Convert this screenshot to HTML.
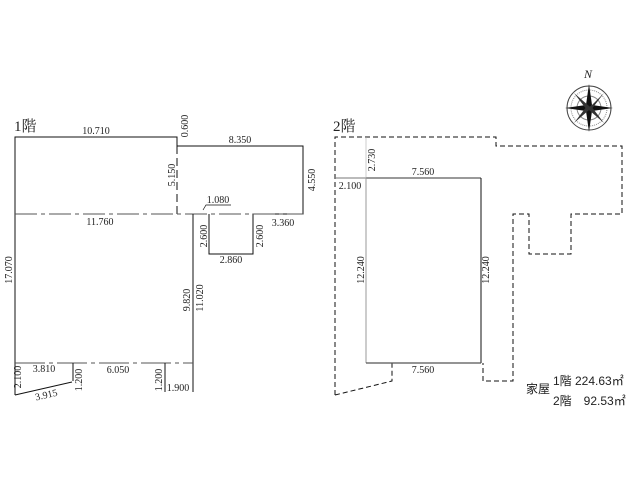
<!DOCTYPE html>
<html><head><meta charset="utf-8"><style>
body{margin:0;background:#fff}
svg{display:block}
.t{font-family:"Liberation Serif","Noto Serif CJK SC",serif;font-size:10px;fill:#222}
.s{font-family:"Liberation Sans","Noto Sans CJK JP",sans-serif;font-size:12px;fill:#222}
</style></head><body>
<svg width="640" height="480" viewBox="0 0 640 480" xmlns="http://www.w3.org/2000/svg">
<g stroke="#111" stroke-width="1" fill="none">
<polyline points="15,395 15,137 177,137 177,146 303,146 303,214 253,214 253,254 209,254 209,214"/>
<line x1="177" y1="146" x2="177" y2="214" stroke-dasharray="8,4"/>
<line x1="15" y1="214" x2="303" y2="214" stroke="#555" stroke-dasharray="22,4,4,4"/>
<line x1="193" y1="214" x2="193" y2="392"/>
<line x1="15" y1="363" x2="193" y2="363" stroke="#555" stroke-dasharray="30,4,4,4"/>
<line x1="73" y1="363" x2="73" y2="381"/>
<line x1="165" y1="363" x2="165" y2="392"/>
<line x1="15" y1="395" x2="72" y2="382"/>
<polyline points="203,210 206,205 231,205" stroke-width="0.7"/>
<polyline points="335,395 335,137 496,137 496,146 622,146 622,214 571,214 571,254 529,254 529,214 513,214 513,381 483,381 483,363" stroke-dasharray="5,3"/>
<polyline points="335,395 392,381 392,363" stroke-dasharray="5,3"/>
<line x1="335" y1="178" x2="366" y2="178" stroke="#777"/>
<line x1="366" y1="178" x2="481" y2="178" stroke="#333"/>
<line x1="366" y1="178" x2="366" y2="363" stroke="#999"/>
<line x1="481" y1="178" x2="481" y2="363"/>
<line x1="366" y1="363" x2="481" y2="363" stroke="#555" stroke-width="1.3"/>
<line x1="366" y1="137" x2="366" y2="178" stroke="#aaa" stroke-width="0.6"/>
<circle cx="589" cy="108" r="22" stroke="#444"/>
<circle cx="589" cy="108" r="18" stroke="#888" stroke-dasharray="1,1"/>
<circle cx="589" cy="108" r="12" stroke="#888"/>
</g>
<g fill="#111">
<polygon points="589,84 592,105 589,108 586,105"/>
<polygon points="589,132 592,111 589,108 586,111"/>
<polygon points="565,108 586,105 589,108 586,111"/>
<polygon points="613,108 592,105 589,108 592,111"/>
<polygon points="574,93 589,106 591,108 587,110" fill="#333"/>
<polygon points="604,93 591,106 589,108 591,110" fill="#333"/>
<polygon points="574,123 589,110 591,108 587,106" fill="#333"/>
<polygon points="604,123 589,110 587,108 591,106" fill="#333"/>
</g>
<text x="588" y="78" class="t" style="font-size:12px;font-style:italic" text-anchor="middle">N</text>
<text x="14" y="131" class="t" style="font-size:15px">1階</text>
<text x="96" y="134" class="t" text-anchor="middle">10.710</text>
<text class="t" text-anchor="middle" transform="translate(188,126) rotate(-90)">0.600</text>
<text x="240" y="143" class="t" text-anchor="middle">8.350</text>
<text class="t" text-anchor="middle" transform="translate(175,175) rotate(-90)">5.150</text>
<text class="t" text-anchor="middle" transform="translate(315,180) rotate(-90)">4.550</text>
<text x="218" y="203" class="t" text-anchor="middle">1.080</text>
<text x="100" y="225" class="t" text-anchor="middle">11.760</text>
<text x="283" y="226" class="t" text-anchor="middle">3.360</text>
<text class="t" text-anchor="middle" transform="translate(207,236) rotate(-90)">2.600</text>
<text class="t" text-anchor="middle" transform="translate(263,236) rotate(-90)">2.600</text>
<text x="231" y="263" class="t" text-anchor="middle">2.860</text>
<text class="t" text-anchor="middle" fill="#666" transform="translate(12,270) rotate(-90)">17.070</text>
<text class="t" text-anchor="middle" transform="translate(190,300) rotate(-90)">9.820</text>
<text class="t" text-anchor="middle" transform="translate(203,298) rotate(-90)">11.020</text>
<text x="44" y="372" class="t" text-anchor="middle">3.810</text>
<text x="118" y="373" class="t" text-anchor="middle">6.050</text>
<text class="t" text-anchor="middle" transform="translate(21,377) rotate(-90)">2.100</text>
<text class="t" text-anchor="middle" transform="translate(82,380) rotate(-90)">1.200</text>
<text class="t" text-anchor="middle" transform="translate(162,380) rotate(-90)">1.200</text>
<text x="178" y="391" class="t" text-anchor="middle">1.900</text>
<text class="t" text-anchor="middle" transform="translate(47,398) rotate(-13)">3.915</text>
<text x="333" y="131" class="t" style="font-size:15px">2階</text>
<text class="t" text-anchor="middle" transform="translate(375,160) rotate(-90)">2.730</text>
<text x="423" y="175" class="t" text-anchor="middle">7.560</text>
<text x="350" y="189" class="t" text-anchor="middle">2.100</text>
<text class="t" text-anchor="middle" transform="translate(364,270) rotate(-90)">12.240</text>
<text class="t" text-anchor="middle" transform="translate(489,270) rotate(-90)">12.240</text>
<text x="423" y="373" class="t" text-anchor="middle">7.560</text>
<text x="526" y="393" class="s">家屋</text>
<text x="553" y="385" class="s">1階 224.63㎡</text>
<text x="553" y="405" class="s">2階　92.53㎡</text>
</svg>
</body></html>
